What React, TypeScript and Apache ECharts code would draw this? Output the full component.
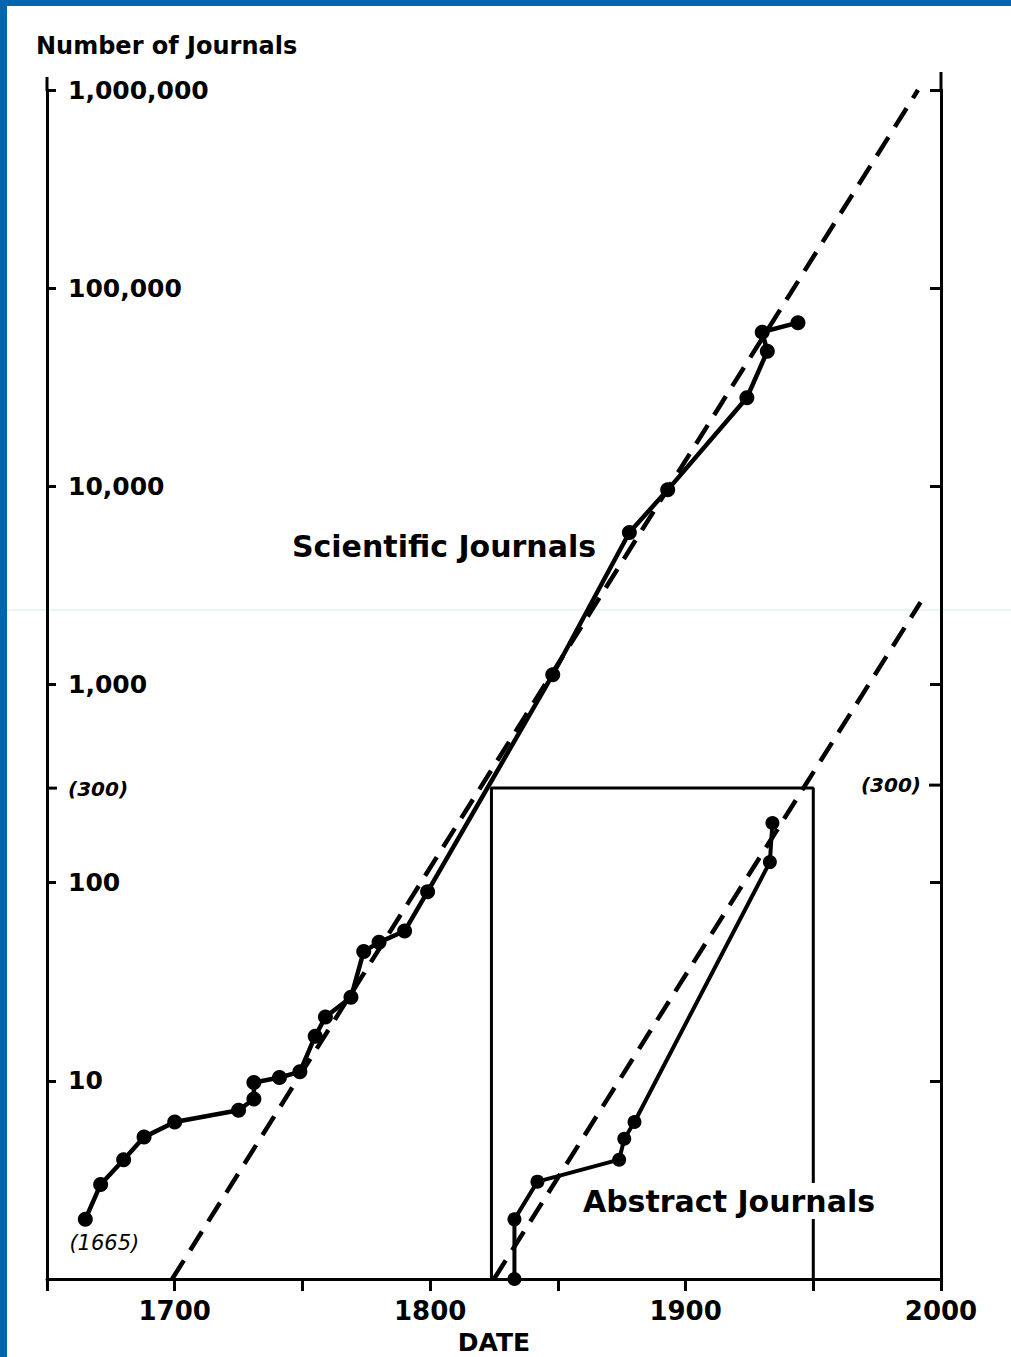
import React, { useEffect, useRef } from 'react';
import * as echarts from 'echarts';

// Scientific journals: [year, number of journals]
const scientificPoints: [number, number][] = [
  [1665, 2], [1671, 3], [1680, 4], [1688, 5.2], [1700, 6.2], [1725, 7.1],
  [1731, 8.1], [1731, 9.8], [1741, 10.4], [1749, 11.1], [1755, 16.8],
  [1759, 21], [1769, 26.4], [1774, 45], [1780, 50], [1790, 57], [1799, 90],
  [1848, 1120], [1878, 5850], [1893, 9600], [1924, 28000], [1932, 48000],
  [1930, 60000], [1944, 67000],
];

// Abstract journals: [year, number of journals]
const abstractPoints: [number, number][] = [
  [1833, 1], [1833, 2], [1842, 3.1], [1874, 4], [1876, 5.1], [1880, 6.2],
  [1933, 127], [1934, 200],
];

// Exponential trend lines (dashed)
const scientificTrend: [number, number][] = [[1699, 1], [1991, 1000000]];
const abstractTrend: [number, number][] = [[1825, 1], [1992, 2600]];

// Box marking the abstract-journal sub-plot
const boxOutline: [number, number][] = [[1824, 1], [1824, 300], [1950, 300], [1950, 1]];

// Extra marked level on both vertical axes
const markedLevels: number[] = [300];

const xMin = 1650;
const xMax = 2000;
const xInterval = 50;
const yMin = 1;
const yMax = 1000000;

const FONT = '"DejaVu Sans", sans-serif';

export default function App() {
  const ref = useRef<HTMLDivElement>(null);

  useEffect(() => {
    if (!ref.current) return;
    const chart = echarts.init(ref.current, undefined, { renderer: 'svg' });

    const yAxisCommon = {
      type: 'log',
      logBase: 10,
      min: yMin,
      max: yMax,
      splitNumber: 6,
      splitLine: { show: false },
      axisLine: { show: true, lineStyle: { color: '#000', width: 3 } },
    };

    chart.setOption({
      animation: false,
      backgroundColor: '#fff',
      grid: { left: 47, right: 70, top: 90, bottom: 78, containLabel: false, outerBoundsMode: 'none' },
      xAxis: {
        type: 'value',
        min: xMin,
        max: xMax,
        interval: xInterval,
        splitLine: { show: false },
        axisLine: { show: true, lineStyle: { color: '#000', width: 3 } },
        axisTick: { show: true, length: 12, lineStyle: { color: '#000', width: 3 } },
        axisLabel: {
          margin: 19,
          color: '#000',
          fontFamily: FONT,
          fontWeight: 'bold',
          fontSize: 26,
          formatter: (v: number) => (v % 100 === 0 ? String(v) : ''),
        },
        name: 'DATE',
        nameLocation: 'middle',
        nameGap: 51,
        nameTextStyle: { color: '#000', fontFamily: FONT, fontWeight: 'bold', fontSize: 25, lineHeight: 24 },
      },
      yAxis: [
        {
          ...yAxisCommon,
          position: 'left',
          axisTick: { show: true, inside: true, length: 9, lineStyle: { color: '#000', width: 3 } },
          axisLabel: {
            inside: true,
            margin: 21,
            color: '#000',
            fontFamily: FONT,
            fontWeight: 'bold',
            fontSize: 25,
            formatter: (v: number) => (Math.round(v) === 1 ? '' : Math.round(v).toLocaleString('en-US')),
          },
        },
        {
          ...yAxisCommon,
          position: 'right',
          axisTick: { show: true, inside: true, length: 11, lineStyle: { color: '#000', width: 3 } },
          axisLabel: { show: false },
        },
      ],
      series: [
        {
          type: 'line',
          data: scientificTrend,
          symbol: 'none',
          lineStyle: { color: '#000', width: 4.5, type: [22, 12] },
          z: 2,
        },
        {
          type: 'line',
          data: abstractTrend,
          symbol: 'none',
          lineStyle: { color: '#000', width: 4.5, type: [22, 12] },
          z: 2,
        },
        {
          type: 'line',
          data: boxOutline,
          symbol: 'none',
          lineStyle: { color: '#000', width: 3 },
          z: 2,
        },
        {
          type: 'line',
          data: scientificPoints.map((p, i) =>
            i === 0
              ? {
                  value: p,
                  label: {
                    show: true,
                    position: 'bottom',
                    offset: [19, 1],
                    formatter: '(1665)',
                    color: '#000',
                    fontFamily: FONT,
                    fontStyle: 'italic',
                    fontSize: 21,
                  },
                }
              : p
          ),
          symbol: 'circle',
          symbolSize: 15,
          itemStyle: { color: '#000' },
          lineStyle: { color: '#000', width: 4.5 },
          z: 3,
        },
        {
          type: 'line',
          data: abstractPoints,
          symbol: 'circle',
          symbolSize: 14,
          itemStyle: { color: '#000' },
          lineStyle: { color: '#000', width: 4 },
          z: 3,
        },
        {
          type: 'custom',
          coordinateSystem: 'cartesian2d',
          data: markedLevels.map((v) => [xMin, v]),
          z: 4,
          silent: true,
          renderItem: (params: any, api: any) => {
            const v = api.value(1);
            const pL = api.coord([xMin, v]);
            const pR = api.coord([xMax, v]);
            const font = `italic bold 20px ${FONT}`;
            return {
              type: 'group',
              children: [
                { type: 'line', shape: { x1: pL[0], y1: pL[1], x2: pL[0] + 10, y2: pL[1] }, style: { stroke: '#000', lineWidth: 3 } },
                { type: 'line', shape: { x1: pR[0] - 12, y1: pR[1] - 3, x2: pR[0], y2: pR[1] - 3 }, style: { stroke: '#000', lineWidth: 3 } },
                {
                  type: 'text',
                  x: pL[0] + 21,
                  y: pL[1] + 1,
                  style: { text: '(300)', font, fill: '#000', align: 'left', verticalAlign: 'middle', textAlign: 'left', textVerticalAlign: 'middle' },
                },
                {
                  type: 'text',
                  x: pR[0] - 20,
                  y: pR[1] - 3,
                  style: { text: '(300)', font, fill: '#000', align: 'right', verticalAlign: 'middle', textAlign: 'right', textVerticalAlign: 'middle' },
                },
              ],
            };
          },
        },
      ],
      graphic: [
        { type: 'rect', z: 0, shape: { x: 0, y: 0, width: 1011, height: 6 }, style: { fill: '#0066b2' } },
        { type: 'rect', z: 0, shape: { x: 0, y: 0, width: 7, height: 1357 }, style: { fill: '#0066b2' } },
        { type: 'line', z: 0, shape: { x1: 7, y1: 610, x2: 1011, y2: 610 }, style: { stroke: '#dbe9ef', lineWidth: 1 } },
        { type: 'line', z: 10, shape: { x1: 47, y1: 77, x2: 47, y2: 91 }, style: { stroke: '#000', lineWidth: 3 } },
        { type: 'line', z: 10, shape: { x1: 941, y1: 72, x2: 941, y2: 91 }, style: { stroke: '#000', lineWidth: 3 } },
        {
          type: 'text',
          z: 10,
          x: 36,
          y: 46,
          style: { text: 'Number of Journals', font: `bold 24px ${FONT}`, fill: '#000', align: 'left', verticalAlign: 'middle', textAlign: 'left', textVerticalAlign: 'middle' },
        },
        {
          type: 'text',
          z: 10,
          x: 444,
          y: 546,
          style: { text: 'Scientific Journals', font: `bold 30px ${FONT}`, fill: '#000', align: 'center', verticalAlign: 'middle', textAlign: 'center', textVerticalAlign: 'middle' },
        },
        {
          type: 'text',
          z: 100,
          x: 729,
          y: 1201,
          style: {
            text: 'Abstract Journals',
            font: `bold 30px ${FONT}`,
            fill: '#000',
            align: 'center',
            verticalAlign: 'middle',
            textAlign: 'center',
            textVerticalAlign: 'middle',
            backgroundColor: '#fff',
            padding: [3, 2],
          },
        },
      ],
    });

    return () => chart.dispose();
  }, []);

  return (
    <div
      ref={ref}
      style={{ position: 'absolute', left: 0, top: 0, width: 1011, height: 1357, background: '#fff' }}
    />
  );
}
